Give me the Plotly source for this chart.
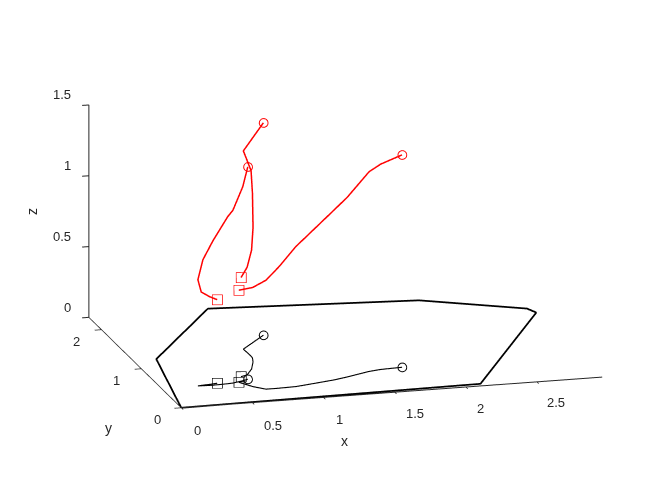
import plotly.graph_objects as go
import math

# ---- data ----
# boundary polygon on the z = 0 plane
poly_x = [0.0, 2.117, 2.958, 2.924, 2.272, 0.836, 0.162, 0.0]
poly_y = [0.0, 0.051, 1.652, 1.763, 2.147, 2.316, 1.204, 0.0]

# trajectory A
a_x = [0.399, 0.341, 0.280, 0.255, 0.289, 0.358, 0.465, 0.503, 0.583, 0.626]
a_y = [0.523, 0.508, 0.498, 0.492, 0.488, 0.483, 0.493, 0.500, 0.538, 0.565]
a_z = [0.59, 0.62, 0.66, 0.75, 0.89, 1.02, 1.18, 1.22, 1.37, 1.50]

# trajectory B
b_x = [0.599, 0.650, 0.719, 0.775, 0.798, 0.802, 0.798, 1.022]
b_y = [0.638, 0.668, 0.802, 0.965, 1.061, 1.111, 1.290, 1.587]
b_z = [0.70, 0.76, 0.84, 0.95, 1.16, 1.31, 1.40, 1.50]

# trajectory C
c_x = [0.547, 0.609, 0.679, 0.772, 0.892, 0.955, 1.186, 1.293, 1.471, 1.560, 1.715]
c_y = [0.509, 0.381, 0.296, 0.297, 0.306, 0.325, 0.399, 0.447, 0.540, 0.567, 0.582]
c_z = [0.65, 0.70, 0.77, 0.86, 0.99, 1.035, 1.20, 1.27, 1.41, 1.45, 1.50]

x_ticks = [0, 0.5, 1, 1.5, 2, 2.5]
y_ticks = [0, 1, 2]
z_ticks = [0, 0.5, 1, 1.5]
x_range = [0, 2.958]
y_range = [0, 2.316]
z_range = [0, 1.5]

# ---- figure ----
fig = go.Figure()
RED = "#ff0000"
BLK = "#000000"
AXC = "#262626"
W, H = 664, 498
PAGE_OFFSET = 8  # default body margin of the html page

fig.add_trace(go.Scatter3d(x=poly_x, y=poly_y, z=[0] * len(poly_x), mode="lines",
                           line=dict(color=BLK, width=3.5), hoverinfo="skip"))

for tx, ty, tz in [(a_x, a_y, a_z), (b_x, b_y, b_z), (c_x, c_y, c_z)]:
    zeros = [0] * len(tx)
    fig.add_trace(go.Scatter3d(x=tx, y=ty, z=tz, mode="lines",
                               line=dict(color=RED, width=3), hoverinfo="skip"))
    fig.add_trace(go.Scatter3d(x=tx, y=ty, z=zeros, mode="lines",
                               line=dict(color=BLK, width=2.2), hoverinfo="skip"))
    fig.add_trace(go.Scatter3d(x=[tx[0]], y=[ty[0]], z=[tz[0]], mode="markers",
                               marker=dict(symbol="square-open", size=4.5, color=RED), hoverinfo="skip"))
    fig.add_trace(go.Scatter3d(x=[tx[-1]], y=[ty[-1]], z=[tz[-1]], mode="markers",
                               marker=dict(symbol="circle-open", size=5.5, color=RED), hoverinfo="skip"))
    fig.add_trace(go.Scatter3d(x=[tx[0]], y=[ty[0]], z=[0], mode="markers",
                               marker=dict(symbol="square-open", size=4.5, color=BLK), hoverinfo="skip"))
    fig.add_trace(go.Scatter3d(x=[tx[-1]], y=[ty[-1]], z=[0], mode="markers",
                               marker=dict(symbol="circle-open", size=5.5, color=BLK), hoverinfo="skip"))

def ax(rng, ticks):
    return dict(title=dict(text=""), range=rng, autorange=False, tickvals=ticks,
                showticklabels=False,
                showbackground=False, showgrid=False, zeroline=False,
                showline=True, linecolor=AXC, linewidth=2,
                ticks="outside", ticklen=7, tickcolor=AXC, tickwidth=2,
                showspikes=False)

# label placement (pixel positions of the label centres in the window)
x_lab_px = [(197, 430), (273, 425), (339, 419), (415, 413), (480, 408), (556, 402)]
y_lab_px = [(157, 419), (117, 380), (76, 341)]
z_lab_px = [(73, 307), (73, 237), (73, 166), (73, 95)]

def lab(text, px, py, xanchor="center", size=13, angle=0):
    return dict(text=text, x=(px - PAGE_OFFSET) / W, y=1 - (py - PAGE_OFFSET) / H,
                xref="paper", yref="paper",
                showarrow=False, xanchor=xanchor, yanchor="middle", textangle=angle,
                font=dict(size=size, color=AXC, family="Liberation Sans, Arial, sans-serif"))

annots = []
for t, (px, py) in zip(x_ticks, x_lab_px):
    annots.append(lab("%g" % t, px, py))
for t, (px, py) in zip(y_ticks, y_lab_px):
    annots.append(lab("%g" % t, px, py))
for t, (px, py) in zip(z_ticks, z_lab_px):
    annots.append(lab("%g" % t, px, py, xanchor="right"))
annots.append(lab("x", 344, 441, size=14))
annots.append(lab("y", 108, 428, size=14))
annots.append(lab("z", 32, 212, size=14, angle=-90))

az = math.radians(-15.27)
el = math.radians(15.51)
r = 1.8
c = dict(x=0.0256, y=-0.0162, z=-0.0319)
eye = dict(x=c["x"] + r * math.sin(az) * math.cos(el),
           y=c["y"] - r * math.cos(az) * math.cos(el),
           z=c["z"] + r * math.sin(el))

k = 1.455
fig.update_layout(
    width=W, height=H, showlegend=False,
    paper_bgcolor="white", plot_bgcolor="white",
    font=dict(family="Liberation Sans, Arial, sans-serif"),
    margin=dict(l=0, r=0, t=0, b=0),
    annotations=annots,
    scene=dict(
        domain=dict(x=[0.038, 1.0], y=[0.033, 1.0]),
        xaxis=ax(x_range, x_ticks),
        yaxis=ax(y_range, y_ticks),
        zaxis=ax(z_range, z_ticks),
        aspectmode="manual",
        aspectratio=dict(x=1.2443 * k, y=1.0 * k, z=0.6286 * k),
        camera=dict(eye=eye, up=dict(x=0, y=0, z=1), center=c,
                    projection=dict(type="orthographic")),
    ),
)

fig.write_html("out.html", config={"displayModeBar": False})
